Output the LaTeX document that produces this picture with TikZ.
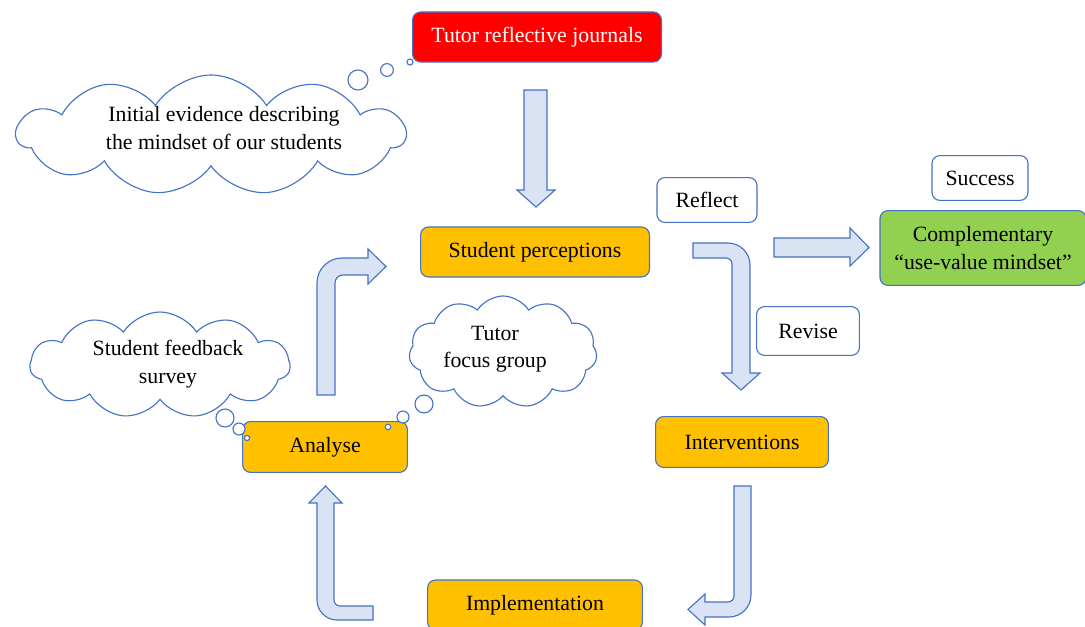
\documentclass[tikz,border=0pt]{standalone}
\usepackage{fontspec}
\setmainfont{Liberation Serif}
\usepackage{tikz}
\usetikzlibrary{shapes.symbols}
\usepackage{xcolor}
\definecolor{lineblue}{HTML}{4472C4}
\definecolor{arrowfill}{HTML}{DAE3F3}
\definecolor{boxorange}{HTML}{FFC000}
\definecolor{boxgreen}{HTML}{92D050}

\begin{document}
\begin{tikzpicture}[x=0.025cm,y=-0.025cm,line width=0.8pt,
  font=\fontsize{15.5}{19.5}\selectfont,
  box/.style={draw=lineblue,rounded corners=0.2cm,align=center,inner sep=0pt},
  stagebox/.style={box,fill=boxorange},
  tagbox/.style={box,fill=white},
  thought/.style={cloud,cloud puffs=11,cloud puff arc=115,cloud ignores aspect,draw=lineblue,fill=white,inner sep=0pt},
  thoughttext/.style={align=center,inner sep=0pt},
  bubble/.style={draw=lineblue,fill=white},
  blockarrow/.style={draw=lineblue,fill=arrowfill,line join=miter}]
\useasboundingbox (0,0) rectangle (1085,626);
\node[thought,minimum width=9.7cm,minimum height=3cm] (evidence) at (211,135) {};
\node[thoughttext] (evidencetext) at (224,128) {Initial evidence describing\\the mindset of our students};
\node[thought,minimum width=6.5cm,minimum height=2.65cm] (survey) at (160,365) {};
\node[thoughttext] (surveytext) at (168,364) {Student feedback\\survey};
\node[thought,minimum width=4.7cm,minimum height=2.8cm] (focus) at (503,352) {};
\node[thoughttext] (focustext) at (495,349) {Tutor\\focus group};
\node[box,fill=red,text=white,minimum width=6.22cm,minimum height=1.25cm] (journals) at (537,37) {Tutor reflective journals};
\node[stagebox,minimum width=5.72cm,minimum height=1.25cm] (perceptions) at (535,252) {Student perceptions};
\node[tagbox,minimum width=2.5cm,minimum height=1.12cm] (reflect) at (707,200) {Reflect};
\node[tagbox,minimum width=2.4cm,minimum height=1.12cm] (success) at (980,178) {Success};
\node[box,fill=boxgreen,minimum width=5.15cm,minimum height=1.87cm] (mindset) at (983,248) {Complementary\\“use-value mindset”};
\node[tagbox,minimum width=2.57cm,minimum height=1.22cm] (revise) at (808,331) {Revise};
\node[stagebox,minimum width=4.32cm,minimum height=1.27cm] (interventions) at (742,442) {Interventions};
\node[stagebox,minimum width=5.37cm,minimum height=1.25cm] (implementation) at (535,605) {Implementation};
\node[stagebox,minimum width=4.12cm,minimum height=1.27cm] (analyse) at (325,447) {Analyse};
\draw[bubble] (358,80) circle (0.25cm);
\draw[bubble] (387,70) circle (0.16cm);
\draw[bubble] (410,62) circle (0.075cm);
\draw[bubble] (225,418) circle (0.225cm);
\draw[bubble] (239,429) circle (0.15cm);
\draw[bubble] (247,438) circle (0.065cm);
\draw[bubble] (424,404) circle (0.225cm);
\draw[bubble] (403,417) circle (0.15cm);
\draw[bubble] (388,427) circle (0.07cm);
\draw[blockarrow] (524,90) -- (547,90) -- (547,190) -- (555,190) -- (536,207) -- (517,190) -- (524,190) -- cycle;
\draw[blockarrow] (774,238) -- (850,238) -- (850,228) -- (869,247.5) -- (850,266) -- (850,257) -- (774,257) -- cycle;
\draw[blockarrow] (693,243) -- (728,243) .. controls (740.1,243) and (750,252.9) .. (750,265) -- (750,373) -- (760,373) -- (741,390) -- (722,373) -- (732,373) -- (732,264) .. controls (732,260.7) and (729.3,258) .. (726,258) -- (693,258) -- cycle;
\draw[blockarrow] (734,486) -- (751,486) -- (751,595) .. controls (751,607.1) and (741.1,617) .. (729,617) -- (705,617) -- (705,625) -- (688,609.5) -- (705,594) -- (705,602) -- (728,602) .. controls (731.3,602) and (734,599.3) .. (734,596) -- cycle;
\draw[blockarrow] (373,606) -- (373,620) -- (337,620) .. controls (326,620) and (317,611) .. (317,600) -- (317,503) -- (309,503) -- (325.5,486) -- (342,503) -- (334,503) -- (334,600) .. controls (334,603.3) and (336.7,606) .. (340,606) -- cycle;
\draw[blockarrow] (317,395) -- (317,283) .. controls (317,269.2) and (328.2,258) .. (342,258) -- (368,258) -- (368,249) -- (386,266.5) -- (368,284) -- (368,275) -- (343,275) .. controls (338.6,275) and (335,278.6) .. (335,283) -- (335,395) -- cycle;
\end{tikzpicture}
\end{document}
